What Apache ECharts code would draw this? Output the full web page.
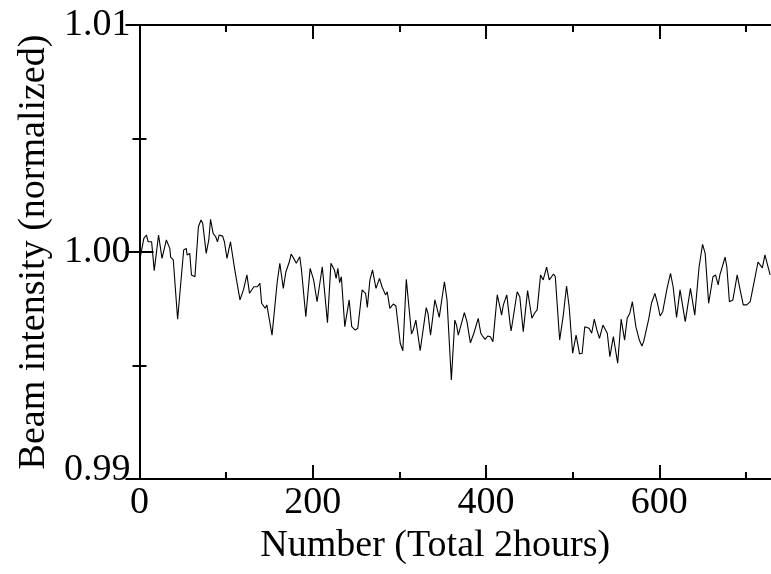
<!DOCTYPE html>
<html>
<head>
<meta charset="utf-8">
<script src="https://cdn.jsdelivr.net/npm/echarts@6/dist/echarts.min.js"></script>
<style>
  html, body { margin: 0; padding: 0; background: #ffffff; }
  #chart { width: 771px; height: 574px; }
</style>
</head>
<body>
<div id="chart"></div>
<script>
// Measurement index (one reading every 10 s, 2 hours in total)
const sampleNumber = [
  1, 5, 8, 10, 14, 17, 22, 26, 31, 35, 36, 39, 44, 51, 54, 55, 58, 60, 64, 68,
  71, 73, 77, 80, 82, 85, 88, 90, 92, 96, 98, 101, 103, 105, 110, 116, 120, 124, 127, 132,
  136, 139, 141, 145, 147, 153, 159, 162, 166, 169, 173, 175, 178, 181, 185, 187, 192, 197, 201, 205,
  211, 217, 221, 225, 227, 229, 231, 233, 237, 242, 245, 249, 252, 257, 261, 263, 266, 269, 273, 277,
  280, 284, 286, 289, 293, 296, 301, 304, 308, 314, 316, 319, 324, 326, 331, 333, 336, 341, 343, 346,
  352, 355, 360, 364, 366, 368, 370, 375, 378, 382, 386, 391, 394, 396, 399, 402, 405, 408, 413, 416,
  418, 420, 424, 428, 429, 436, 439, 443, 448, 453, 456, 459, 463, 466, 470, 473, 478, 480, 485, 489,
  493, 496, 500, 504, 508, 511, 514, 519, 522, 525, 528, 531, 535, 540, 543, 547, 552, 556, 560, 563,
  566, 569, 573, 577, 580, 582, 588, 591, 595, 598, 601, 604, 609, 613, 616, 620, 624, 630, 636, 641,
  646, 650, 653, 657, 662, 665, 668, 670, 672, 676, 678, 681, 685, 690, 693, 697, 701, 705, 710, 714,
  719, 722, 728
];

// Normalized beam intensity at each sample
const beamIntensity = [
  0.99979, 1.00060, 1.00075, 1.00045, 1.00045, 0.99918, 1.00075, 0.99972, 1.00053, 1.00016, 0.99977, 0.99965, 0.99704, 1.00009, 1.00016, 0.99987, 0.99994, 0.99899, 0.99891, 1.00111,
  1.00141, 1.00126, 0.99994, 1.00053, 1.00144, 1.00082, 1.00067, 1.00045, 1.00075, 1.00070, 1.00045, 0.99972, 0.99972, 1.00045, 0.99921, 0.99789, 0.99833, 0.99899, 0.99818, 0.99847,
  0.99847, 0.99862, 0.99774, 0.99752, 0.99767, 0.99634, 0.99869, 0.99950, 0.99840, 0.99913, 0.99957, 0.99991, 0.99972, 0.99950, 0.99979, 0.99921, 0.99715, 0.99928, 0.99877, 0.99781,
  0.99935, 0.99689, 0.99950, 0.99921, 0.99884, 0.99928, 0.99865, 0.99891, 0.99671, 0.99789, 0.99671, 0.99656, 0.99664, 0.99833, 0.99818, 0.99756, 0.99877, 0.99921, 0.99840, 0.99884,
  0.99847, 0.99811, 0.99825, 0.99752, 0.99771, 0.99762, 0.99598, 0.99565, 0.99880, 0.99639, 0.99656, 0.99700, 0.99565, 0.99568, 0.99755, 0.99730, 0.99634, 0.99789, 0.99759, 0.99712,
  0.99869, 0.99789, 0.99436, 0.99700, 0.99678, 0.99634, 0.99642, 0.99733, 0.99693, 0.99600, 0.99642, 0.99708, 0.99642, 0.99630, 0.99615, 0.99630, 0.99627, 0.99605, 0.99811, 0.99759,
  0.99722, 0.99767, 0.99811, 0.99678, 0.99652, 0.99825, 0.99803, 0.99649, 0.99830, 0.99708, 0.99730, 0.99745, 0.99899, 0.99877, 0.99933, 0.99877, 0.99903, 0.99891, 0.99612, 0.99715,
  0.99850, 0.99759, 0.99554, 0.99634, 0.99551, 0.99554, 0.99671, 0.99664, 0.99642, 0.99704, 0.99656, 0.99620, 0.99678, 0.99642, 0.99539, 0.99627, 0.99510, 0.99704, 0.99612, 0.99708,
  0.99730, 0.99781, 0.99671, 0.99612, 0.99586, 0.99605, 0.99708, 0.99774, 0.99818, 0.99774, 0.99718, 0.99737, 0.99840, 0.99906, 0.99847, 0.99712, 0.99833, 0.99693, 0.99840, 0.99722,
  0.99935, 1.00034, 0.99994, 0.99774, 0.99891, 0.99899, 0.99855, 0.99899, 0.99891, 0.99977, 0.99935, 0.99781, 0.99789, 0.99899, 0.99840, 0.99767, 0.99767, 0.99781, 0.99877, 0.99956,
  0.99930, 0.99987, 0.99899
];

const xTickLabels = [0, 200, 400, 600];
const xMinorTicks = [100, 300, 500, 700];
const yTickLabels = ['0.99', '1.00', '1.01'];

const FONT = '"Liberation Serif", "Times New Roman", serif';
const FONT_SIZE = 38;
const X_MAX = 729;

const chart = echarts.init(document.getElementById('chart'), null, { renderer: 'canvas' });

const black = { color: '#000', width: 2 };
const noSplit = { splitLine: { show: false }, minorSplitLine: { show: false } };

// One x axis per side for the long ticks, and a twin for the short ones
function xAxisPair(position, withLabels) {
  const major = Object.assign({
    type: 'value', min: 0, max: X_MAX, position,
    axisLine: { show: true, lineStyle: black },
    axisTick: { show: true, inside: true, length: 14, lineStyle: black, customValues: xTickLabels },
    axisLabel: withLabels
      ? { show: true, margin: 5, fontFamily: FONT, fontSize: FONT_SIZE, color: '#000', customValues: xTickLabels }
      : { show: false }
  }, noSplit);
  const minor = Object.assign({
    type: 'value', min: 0, max: X_MAX, position,
    axisLine: { show: false },
    axisTick: { show: true, inside: true, length: 7, lineStyle: black, customValues: xMinorTicks },
    axisLabel: { show: false }
  }, noSplit);
  return [major, minor];
}

const bottomAxes = xAxisPair('bottom', true);
bottomAxes[0].name = 'Number (Total 2hours)';
bottomAxes[0].nameLocation = 'middle';
bottomAxes[0].nameGap = 29;
bottomAxes[0].nameTextStyle = { fontFamily: FONT, fontSize: FONT_SIZE, color: '#000', padding: [0, 40, 0, 0] };

const yBase = Object.assign({
  type: 'value', min: 0.99, max: 1.01, interval: 0.01,
  axisTick: { show: true, inside: true, length: 14, lineStyle: black },
  minorTick: { show: true, splitNumber: 2, length: 7, lineStyle: black }
}, noSplit);

chart.setOption({
  animation: false,
  backgroundColor: '#ffffff',
  grid: { left: 139.5, right: 0, top: 25, bottom: 95, containLabel: false, outerBoundsMode: 'none' },
  xAxis: bottomAxes.concat(xAxisPair('top', false)),
  yAxis: [
    Object.assign({}, yBase, {
      position: 'left',
      axisLine: { show: true, lineStyle: black },
      name: 'Beam intensity (normalized)',
      nameLocation: 'middle',
      nameGap: 84,
      nameTextStyle: { fontFamily: FONT, fontSize: FONT_SIZE, color: '#000' },
      axisLabel: {
        show: true, margin: 9, fontFamily: FONT, fontSize: FONT_SIZE, color: '#000',
        formatter: v => {
          const s = v.toFixed(2);
          if (yTickLabels.indexOf(s) < 0) return '';
          return s === yTickLabels[0] ? '{low|' + s + '}' : s;
        },
        rich: { low: { fontFamily: FONT, fontSize: FONT_SIZE, color: '#000', padding: [0, 0, 18, 0] } }
      }
    }),
    Object.assign({}, yBase, {
      position: 'right',
      axisLine: { show: false },
      axisLabel: { show: false }
    })
  ],
  series: [{
    type: 'line',
    xAxisIndex: 0,
    yAxisIndex: 0,
    data: sampleNumber.map((n, i) => [n, beamIntensity[i]]),
    showSymbol: false,
    symbol: 'none',
    lineStyle: { color: '#000', width: 1.1 },
    clip: true
  }]
});
</script>
</body>
</html>
